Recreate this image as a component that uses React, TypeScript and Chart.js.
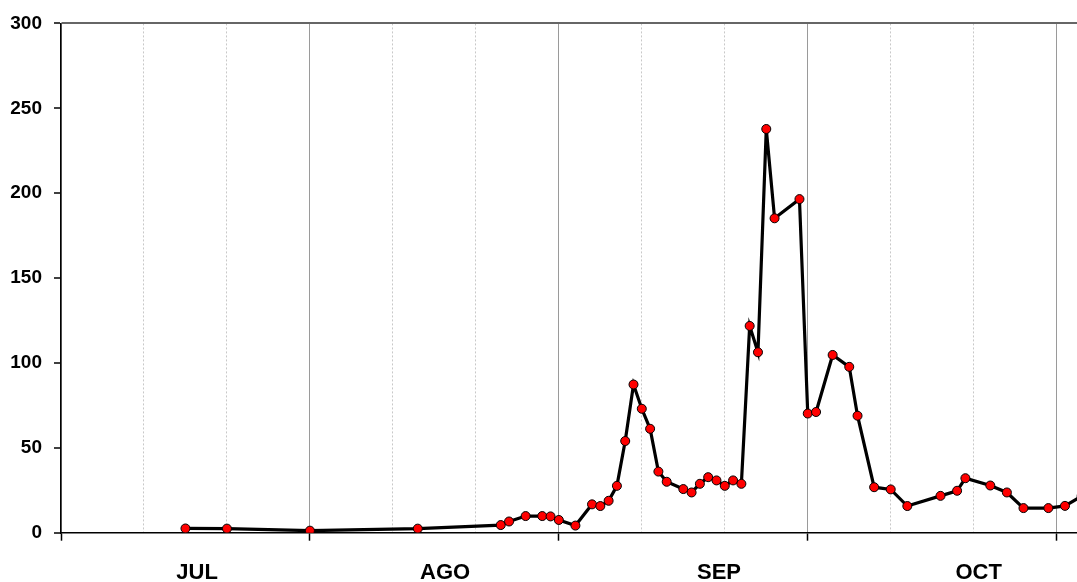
import React, { useEffect, useRef } from "react";
import { Chart, registerables } from "chart.js";

Chart.register(...registerables);

// Day number counted from the start of the x axis (axis starts 30 days before the first solid grid line)
const dayNumbers = [
  15, 20, 30, 43, 53, 54, 56, 58, 59, 60, 62, 64, 65, 66, 67, 68, 69, 70, 71, 72,
  73, 75, 76, 77, 78, 79, 80, 81, 82, 83, 84, 85, 86, 89, 90, 91, 93, 95, 96, 98,
  100, 102, 106, 108, 109, 112, 114, 116, 119, 121, 123,
];
const caseValues = [
  2.5, 2.4, 1.2, 2.4, 4.5, 6.6, 9.8, 9.8, 9.6, 7.5, 4.2, 16.7, 15.7, 18.8, 27.6, 54,
  87.3, 73, 61.2, 36, 30, 25.7, 23.7, 28.8, 32.7, 30.8, 27.6, 30.8, 28.8, 121.8,
  106.3, 237.8, 185.2, 196.5, 70.2, 71.1, 104.7, 97.7, 68.9, 26.8, 25.5, 15.7,
  21.7, 24.7, 32.1, 27.8, 23.7, 14.5, 14.5, 15.8, 21.5,
];
const monthLabels = ["JUL", "AGO", "SEP", "OCT"];
const monthLabelDays = [16.4, 46.3, 79.3, 110.6];
const yMin = 0;
const yMax = 300;
const yStep = 50;
const xMin = 0;
const xMax = 122.45;
const xStep = 10;
const majorEvery = 30;

const FONT = "'Liberation Sans', Arial, Helvetica, sans-serif";

export default function App() {
  const canvasRef = useRef<HTMLCanvasElement | null>(null);

  useEffect(() => {
    const canvas = canvasRef.current;
    if (!canvas) return;
    const isMajor = (ctx: any) =>
      ctx && ctx.tick && Math.abs(ctx.tick.value % majorEvery) < 1e-6;

    const chart = new Chart(canvas, {
      type: "line",
      data: {
        datasets: [
          {
            data: dayNumbers.map((d, i) => ({ x: d, y: caseValues[i] })),
            borderColor: "#000000",
            borderWidth: 3.2,
            pointBackgroundColor: "#ff0000",
            pointBorderColor: "#000000",
            pointBorderWidth: 1,
            pointRadius: 4.5,
            pointHoverRadius: 4.5,
            tension: 0,
            xAxisID: "x",
            yAxisID: "y",
          },
        ],
      },
      options: {
        animation: false,
        responsive: false,
        events: [],
        layout: { autoPadding: false, padding: { top: 22, right: 0, left: 0, bottom: 0 } },
        plugins: {
          legend: { display: false },
          tooltip: { enabled: false },
          title: { display: false },
        },
        scales: {
          x: {
            type: "linear",
            position: "bottom",
            weight: 0,
            min: xMin,
            max: xMax,
            ticks: { display: false, stepSize: xStep, includeBounds: false },
            grid: {
              display: true,
              drawTicks: true,
              tickLength: 8,
              lineWidth: 1,
              color: (ctx: any) => (isMajor(ctx) ? "#9a9a9a" : "#c8c8c8"),
              tickColor: (ctx: any) => (isMajor(ctx) ? "#000000" : "rgba(0,0,0,0)"),
              tickWidth: 1.5,
            },
            border: {
              display: true,
              color: "#000000",
              width: 1.5,
              dash: (ctx: any) => (ctx && ctx.tick && !isMajor(ctx) ? [2, 2] : []),
            },
            afterFit: (s: any) => {
              s.height = 8;
            },
          },
          month: {
            type: "linear",
            position: "bottom",
            weight: 1,
            min: xMin,
            max: xMax,
            grid: { display: false },
            border: { display: false },
            afterBuildTicks: (s: any) => {
              s.ticks = monthLabelDays.map((v) => ({ value: v }));
            },
            ticks: {
              autoSkip: false,
              maxRotation: 0,
              minRotation: 0,
              padding: 11,
              color: "#000000",
              font: { family: FONT, size: 22, weight: "bold" },
              callback: (_v: any, i: number) => monthLabels[i],
            },
            afterFit: (s: any) => {
              s.height = 41.3;
            },
          },
          y: {
            type: "linear",
            position: "left",
            min: yMin,
            max: yMax,
            ticks: {
              stepSize: yStep,
              padding: 12,
              color: "#000000",
              font: { family: FONT, size: 19, weight: "bold" },
            },
            grid: {
              display: true,
              drawTicks: true,
              tickLength: 7,
              tickColor: "#000000",
              tickWidth: 1.5,
              lineWidth: 2,
              color: (ctx: any) =>
                ctx && ctx.tick && ctx.tick.value === yMax ? "#666666" : "rgba(0,0,0,0)",
            },
            border: { display: true, color: "#000000", width: 1.5 },
            afterFit: (s: any) => {
              s.width = 61;
            },
          },
        },
      },
    } as any);

    return () => {
      chart.destroy();
    };
  }, []);

  return (
    <div
      style={{
        position: "fixed",
        left: 0,
        top: 0,
        width: 1077,
        height: 582,
        overflow: "hidden",
        background: "#ffffff",
      }}
    >
      <canvas
        ref={canvasRef}
        width={1077}
        height={582}
        style={{ width: 1077, height: 582, display: "block" }}
      />
    </div>
  );
}
